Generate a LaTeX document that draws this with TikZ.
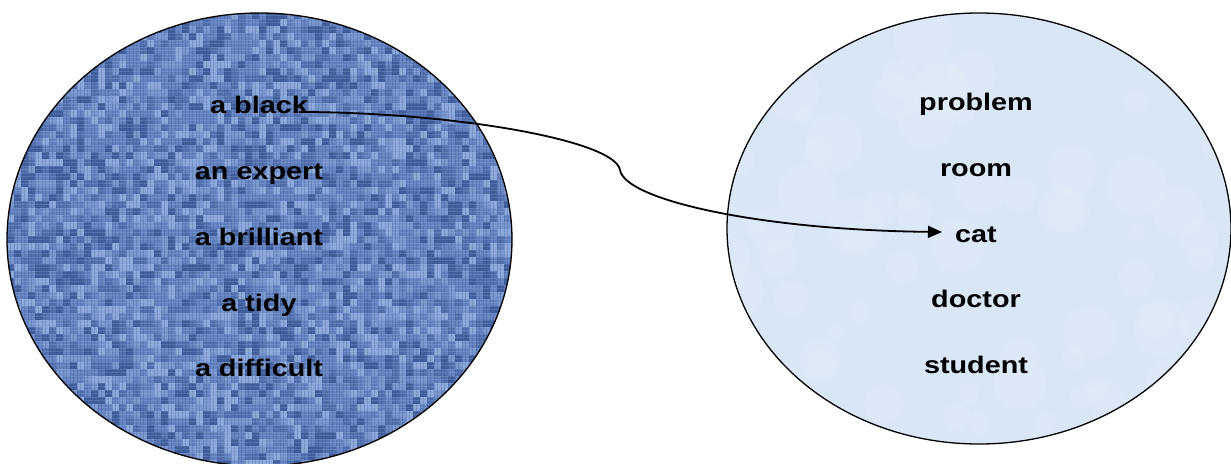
\documentclass[tikz,border=0pt]{standalone}
\usepackage{fontspec}
\setmainfont{Liberation Sans}
\usetikzlibrary{arrows.meta,calc}
\definecolor{lblue}{HTML}{6483C0}
\definecolor{ldark}{HTML}{2A4885}
\definecolor{llight}{HTML}{A8C2EE}
\definecolor{rblue}{HTML}{D9E6F6}
\definecolor{rlight}{HTML}{EAF2FC}
\tikzset{
  word/.style={anchor=base,inner sep=0pt,font=\fontsize{24}{28}\selectfont\bfseries},
  link/.style={line width=1.8pt,-{Triangle[length=14pt,width=12pt]}},
  rim/.style={draw=black,line width=1.3pt}
}
\newcommand{\wrd}[1]{\scalebox{1.2}[1]{#1}}
\begin{document}
\begin{tikzpicture}[x=1pt,y=-1pt]
\useasboundingbox (0,0) rectangle (1231,463);
% left textured ellipse
\begin{scope}
\clip (259.5,239.5) ellipse [x radius=252.5,y radius=226.5];
\fill[lblue] (0,0) rectangle (520,470);
\pgfmathsetseed{7}
\foreach \i in {0,...,72}{
  \foreach \j in {0,...,65}{
    \pgfmathtruncatemacro\k{random(0,5)}
    \ifcase\k
      \fill[ldark,opacity=.6] (7+\i*7,12+\j*7) rectangle ++(7,7);
    \or
      \fill[ldark,opacity=.3] (7+\i*7,12+\j*7) rectangle ++(7,7);
    \or
      \fill[llight,opacity=.6] (7+\i*7,12+\j*7) rectangle ++(7,7);
    \or
      \fill[llight,opacity=.3] (7+\i*7,12+\j*7) rectangle ++(7,7);
    \else
    \fi
  }
}
\foreach \i in {0,...,145}{
  \draw[ldark,opacity=.25,line width=1pt] (7+\i*3.5,10) -- ++(0,460);
}
\foreach \j in {0,...,132}{
  \draw[llight,opacity=.2,line width=1pt] (5,12+\j*3.5) -- ++(510,0);
}
\end{scope}
\draw[rim] (259.5,239.5) ellipse [x radius=252.5,y radius=226.5];
% right ellipse
\begin{scope}
\clip (979,228.5) ellipse [x radius=252,y radius=215.5];
\fill[rblue] (720,0) rectangle (1231,463);
\pgfmathsetseed{3}
\foreach \n in {1,...,70}{
  \pgfmathsetmacro\px{random(720,1231)}
  \pgfmathsetmacro\py{random(10,450)}
  \pgfmathsetmacro\pr{random(8,30)}
  \fill[rlight,opacity=.18] (\px,\py) circle [radius=\pr];
}
\end{scope}
\draw[rim] (979,228.5) ellipse [x radius=252,y radius=215.5];
% words
\node[word] (black) at (259,113) {\wrd{a black}};
\node[word] (expert) at (259,179) {\wrd{an expert}};
\node[word] (brilliant) at (259,245) {\wrd{a brilliant}};
\node[word] (tidy) at (259,311) {\wrd{a tidy}};
\node[word] (difficult) at (259,376) {\wrd{a difficult}};
\node[word] (problem) at (976,110) {\wrd{problem}};
\node[word] (room) at (976,176) {\wrd{room}};
\node[word] (cat) at (976,242) {\wrd{cat}};
\node[word] (doctor) at (976,307) {\wrd{doctor}};
\node[word] (student) at (976,373) {\wrd{student}};
% connector
\draw[link] ([xshift=-9pt,yshift=1pt]black.base east)
  .. controls +(152,0) and (615,140) .. (620,170)
  .. controls (625,200) and (760,230) .. ([xshift=-13pt,yshift=10pt]cat.base west);
\end{tikzpicture}
\end{document}
